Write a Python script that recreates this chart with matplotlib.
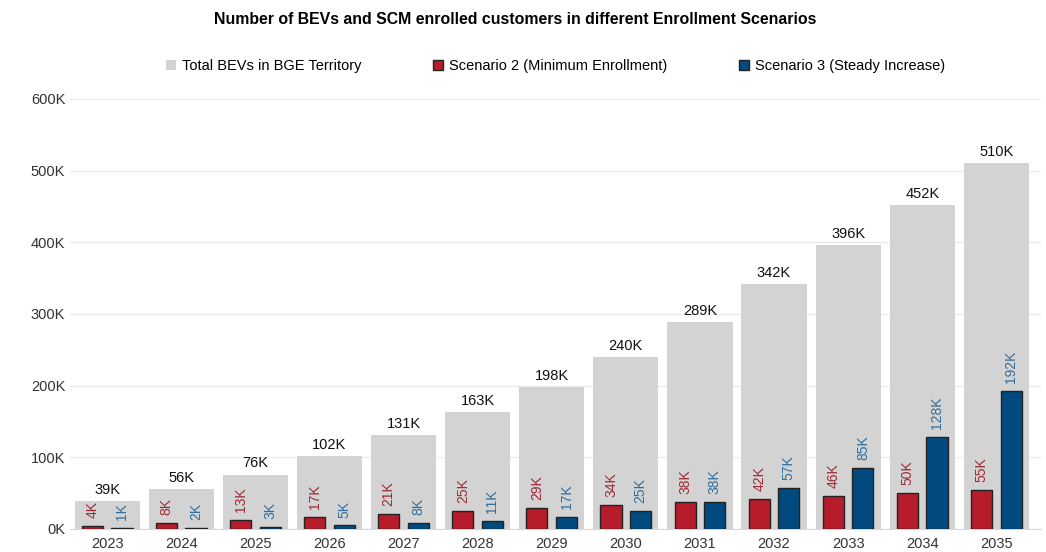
import numpy as np
import matplotlib.pyplot as plt

plt.rcParams['font.family'] = ['Liberation Sans', 'DejaVu Sans']

# data (thousands)
years = ['2023', '2024', '2025', '2026', '2027', '2028', '2029',
         '2030', '2031', '2032', '2033', '2034', '2035']
total_bevs = [39, 56, 76, 102, 131, 163, 198, 240, 289, 342, 396, 452, 510]
scenario2 = [4, 8, 13, 17, 21, 25, 29, 34, 38, 42, 46, 50, 55]
scenario3 = [1, 2, 3, 5, 8, 11, 17, 25, 38, 57, 85, 128, 192]

grey = '#d3d3d3'
red = '#b71c2b'
blue = '#004a7f'
red_txt = '#9e2b36'
blue_txt = '#2f6f9f'

fig = plt.figure(figsize=(10.46, 5.52), dpi=100)
ax = fig.add_axes([0.067, 0.0417, 0.928, 0.779])

x = np.arange(len(years))
ax.bar(x, total_bevs, width=0.88, color=grey, zorder=2,
       label='Total BEVs in BGE Territory')
ax.bar(x - 0.2, scenario2, width=0.285, color=red, edgecolor='#222222',
       linewidth=1.0, zorder=3, label='Scenario 2 (Minimum Enrollment)')
ax.bar(x + 0.2, scenario3, width=0.285, color=blue, edgecolor='#222222',
       linewidth=1.0, zorder=3, label='Scenario 3 (Steady Increase)')

for i in range(len(years)):
    ax.text(x[i], total_bevs[i] + 6, f'{total_bevs[i]}K', ha='center',
            va='bottom', fontsize=10.5, color='#111111', zorder=4)
    ax.text(x[i] - 0.2, scenario2[i] + 11, f'{scenario2[i]}K', ha='center',
            va='bottom', rotation=90, fontsize=10, color=red_txt, zorder=4)
    ax.text(x[i] + 0.2, scenario3[i] + 11, f'{scenario3[i]}K', ha='center',
            va='bottom', rotation=90, fontsize=10, color=blue_txt, zorder=4)

ax.set_ylim(0, 600)
ax.set_xlim(-0.5, 12.6)
ax.set_yticks(np.arange(0, 601, 100))
ax.set_yticklabels([f'{v}K' for v in range(0, 601, 100)])
ax.set_xticks(x)
ax.set_xticklabels(years)
ax.tick_params(axis='both', length=0, labelsize=10.5, colors='#333333')
ax.tick_params(axis='x', pad=6)
ax.grid(axis='y', color='black', alpha=0.08, linewidth=1, zorder=2.5)
for s in ['top', 'right', 'left']:
    ax.spines[s].set_visible(False)
ax.spines['bottom'].set_color('#d9d9d9')

fig.text(0.493, 0.965, 'Number of BEVs and SCM enrolled customers in different Enrollment Scenarios',
         ha='center', va='center', fontsize=11.4, fontweight='bold')
fig.legend(loc='center', bbox_to_anchor=(0.531, 0.88), ncol=3, frameon=False,
           fontsize=10.5, handlelength=0.7, handleheight=0.7, columnspacing=4.9,
           handletextpad=0.4)

fig.savefig('out.png', dpi=100)
